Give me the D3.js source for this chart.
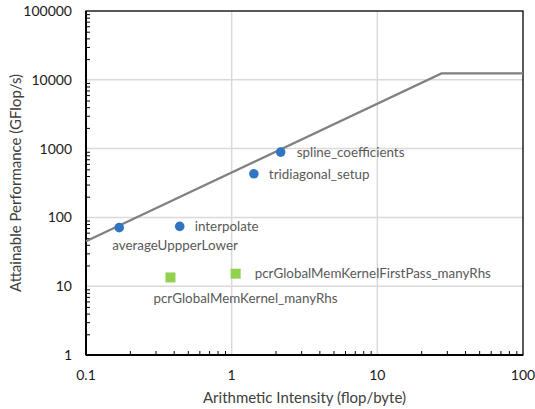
<!DOCTYPE html>
<html>
<head>
<meta charset="utf-8">
<script src="https://cdn.jsdelivr.net/npm/d3@7"></script>
<style>
  html, body { margin: 0; padding: 0; background: #fff; }
  svg { display: block; font-family: Lato, "Open Sans", sans-serif; }
</style>
</head>
<body>
<svg id="chart" width="535" height="409"></svg>
<script>
// Kernel measurements: arithmetic intensity (flop/byte) vs. performance (GFlop/s)
const gpuKernels = ["spline_coefficients", "tridiagonal_setup", "interpolate", "averageUppperLower"];
const gpuIntensity = [2.17, 1.42, 0.44, 0.169];
const gpuPerf = [890, 430, 74, 71];

const pcrKernels = ["pcrGlobalMemKernel_manyRhs", "pcrGlobalMemKernelFirstPass_manyRhs"];
const pcrIntensity = [0.38, 1.065];
const pcrPerf = [13.4, 15.2];

// Roofline parameters
const memBandwidth = [450];   // GB/s
const peakPerf = [12400];     // GFlop/s

const xTicks = [0.1, 1, 10, 100];
const yTicks = [1, 10, 100, 1000, 10000, 100000];

// Label placement relative to each marker (dx, dy, anchor)
const gpuLabelPlace = [[16, 0, "start"], [15, 0, "start"], [15, 0, "start"], [-7, 18, "start"]];
const pcrLabelPlace = [[-17, 21, "start"], [19, 0, "start"]];

const svg = d3.select("#chart");
const margin = { left: 86, top: 11, right: 12, bottom: 54 };
const W = 535, H = 409;
const x = d3.scaleLog().domain([0.1, 100]).range([margin.left, W - margin.right]);
const y = d3.scaleLog().domain([1, 100000]).range([H - margin.bottom, margin.top]);

// Gridlines
const grid = svg.append("g");
grid.selectAll("line.vx").data(xTicks.slice(1, -1)).join("line")
  .attr("x1", d => x(d)).attr("x2", d => x(d))
  .attr("y1", y(1)).attr("y2", y(100000))
  .attr("stroke", "#d9d9d9").attr("stroke-width", 1.5);
grid.selectAll("line.hy").data(yTicks.slice(1, -1)).join("line")
  .attr("x1", x(0.1)).attr("x2", x(100))
  .attr("y1", d => y(d)).attr("y2", d => y(d))
  .attr("stroke", "#d9d9d9").attr("stroke-width", 1.5);

// Minor ticks (inside) on log axes
const minorX = [];
for (let dec = 0.1; dec < 100; dec *= 10) for (let k = 2; k <= 9; k++) minorX.push(dec * k);
const minorY = [];
for (let dec = 1; dec < 100000; dec *= 10) for (let k = 2; k <= 9; k++) minorY.push(dec * k);

const xAxis = d3.axisBottom(x).tickValues(minorX).tickSize(-4).tickFormat("");
const yAxis = d3.axisLeft(y).tickValues(minorY).tickSize(-4).tickFormat("");
svg.append("g").attr("transform", `translate(0,${y(1)})`).call(xAxis)
  .call(g => g.select(".domain").remove())
  .selectAll("line").attr("stroke", "#000").attr("stroke-width", 1);
svg.append("g").attr("transform", `translate(${x(0.1)},0)`).call(yAxis)
  .call(g => g.select(".domain").remove())
  .selectAll("line").attr("stroke", "#000").attr("stroke-width", 1);

// Frame
svg.append("rect")
  .attr("x", x(0.1)).attr("y", y(100000))
  .attr("width", x(100) - x(0.1)).attr("height", y(1) - y(100000))
  .attr("fill", "none").attr("stroke", "#000").attr("stroke-width", 1.3);
svg.append("line").attr("x1", x(0.1)).attr("x2", x(100)).attr("y1", y(1)).attr("y2", y(1))
  .attr("stroke", "#000").attr("stroke-width", 2);
svg.append("line").attr("x1", x(0.1)).attr("x2", x(0.1)).attr("y1", y(1)).attr("y2", y(100000))
  .attr("stroke", "#000").attr("stroke-width", 2);

// Tick labels
svg.append("g").selectAll("text").data(xTicks).join("text")
  .attr("x", d => x(d)).attr("y", y(1) + 20)
  .attr("dy", "0.35em").attr("text-anchor", "middle")
  .attr("font-size", 14).attr("fill", "#1a1a1a")
  .text(d => d3.format("~g")(d));
svg.append("g").selectAll("text").data(yTicks).join("text")
  .attr("x", x(0.1) - 14).attr("y", d => y(d))
  .attr("dy", "0.35em").attr("text-anchor", "end")
  .attr("font-size", 14).attr("fill", "#1a1a1a")
  .text(d => d3.format("d")(d));

// Roofline
const ridge = peakPerf[0] / memBandwidth[0];
const roof = [[0.1, memBandwidth[0] * 0.1], [ridge, peakPerf[0]], [100, peakPerf[0]]];
svg.append("path")
  .attr("d", d3.line().x(d => x(d[0])).y(d => y(d[1]))(roof))
  .attr("fill", "none").attr("stroke", "#808080").attr("stroke-width", 2.3);

// Markers
const gpuData = gpuKernels.map((k, i) => ({ name: k, ai: gpuIntensity[i], perf: gpuPerf[i], place: gpuLabelPlace[i] }));
const pcrData = pcrKernels.map((k, i) => ({ name: k, ai: pcrIntensity[i], perf: pcrPerf[i], place: pcrLabelPlace[i] }));

svg.append("g").selectAll("circle").data(gpuData).join("circle")
  .attr("cx", d => x(d.ai)).attr("cy", d => y(d.perf)).attr("r", 4.8)
  .attr("fill", "#2f75c0");
svg.append("g").selectAll("rect").data(pcrData).join("rect")
  .attr("x", d => x(d.ai) - 5).attr("y", d => y(d.perf) - 5)
  .attr("width", 10).attr("height", 10)
  .attr("fill", "#92d050");

// Data labels
svg.append("g").selectAll("text").data(gpuData.concat(pcrData)).join("text")
  .attr("x", d => x(d.ai) + d.place[0]).attr("y", d => y(d.perf) + d.place[1])
  .attr("dy", "0.35em").attr("text-anchor", d => d.place[2])
  .attr("font-size", 13.4).attr("fill", "#595959")
  .text(d => d.name);

// Axis titles
svg.append("text")
  .attr("x", (x(0.1) + x(100)) / 2).attr("y", 398)
  .attr("dy", "0.35em").attr("text-anchor", "middle")
  .attr("font-size", 15).attr("fill", "#404040")
  .text("Arithmetic Intensity (flop/byte)");
svg.append("text")
  .attr("transform", `translate(16,${(y(1) + y(100000)) / 2}) rotate(-90)`)
  .attr("dy", "0.35em").attr("text-anchor", "middle")
  .attr("font-size", 15).attr("fill", "#404040")
  .text("Attainable Performance (GFlop/s)");
</script>
</body>
</html>
